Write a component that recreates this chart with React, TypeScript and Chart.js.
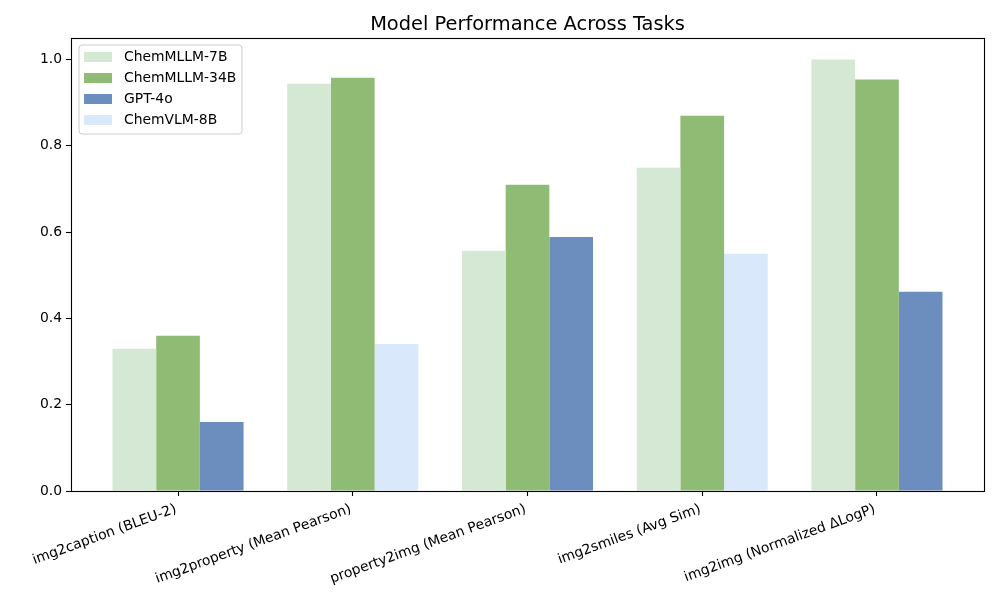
import React, { useEffect, useRef } from 'react';
import { Chart, registerables } from 'chart.js';

Chart.register(...registerables);

const categories = [
  'img2caption (BLEU-2)',
  'img2property (Mean Pearson)',
  'property2img (Mean Pearson)',
  'img2smiles (Avg Sim)',
  'img2img (Normalized ΔLogP)',
];
const models = ['ChemMLLM-7B', 'ChemMLLM-34B', 'GPT-4o', 'ChemVLM-8B'];
const chemmllm7b: (number | null)[] = [0.33, 0.944, 0.557, 0.749, 1.0];
const chemmllm34b: (number | null)[] = [0.36, 0.958, 0.71, 0.87, 0.954];
const gpt4o: (number | null)[] = [0.16, null, 0.589, null, 0.462];
const chemvlm8b: (number | null)[] = [null, 0.341, null, 0.55, null];
const modelColors = ['#d5e8d4', '#8fbb75', '#6c8ebf', '#dae8fc'];
const yTicks = [0, 0.2, 0.4, 0.6, 0.8, 1.0];
const titleText = 'Model Performance Across Tasks';

const FONT = "'DejaVu Sans', sans-serif";

export default function App() {
  const ref = useRef<HTMLCanvasElement | null>(null);

  useEffect(() => {
    if (!ref.current) return;
    const series = [chemmllm7b, chemmllm34b, gpt4o, chemvlm8b];
    const datasets = series.map((vals, k) => ({
      label: models[k],
      data: vals
        .map((v, i) => ({ x: i, y: v }))
        .filter((p) => p.y !== null) as { x: number; y: number }[],
      backgroundColor: modelColors[k],
      borderWidth: 0,
      skipNull: true,
      categoryPercentage: 0.75,
      barPercentage: 1.0,
    }));

    const framePlugin = {
      id: 'frameTitleLegend',
      afterDraw(chart: any) {
        const { ctx, chartArea } = chart;
        const { left, top, right, bottom } = chartArea;
        ctx.save();
        // frame
        ctx.strokeStyle = '#000';
        ctx.lineWidth = 1.1;
        ctx.strokeRect(Math.round(left) + 0.5, Math.round(top) + 0.5, Math.round(right - left), Math.round(bottom - top));
        // title
        ctx.fillStyle = '#000';
        ctx.font = `19.4px ${FONT}`;
        ctx.textAlign = 'center';
        ctx.textBaseline = 'alphabetic';
        ctx.fillText(titleText, (left + right) / 2, top - 8.5);
        // legend
        const lx = left + 8;
        const ly = top + 7;
        const lw = 163;
        const lh = 89;
        const r = 3;
        ctx.beginPath();
        ctx.moveTo(lx + r, ly);
        ctx.lineTo(lx + lw - r, ly);
        ctx.arcTo(lx + lw, ly, lx + lw, ly + r, r);
        ctx.lineTo(lx + lw, ly + lh - r);
        ctx.arcTo(lx + lw, ly + lh, lx + lw - r, ly + lh, r);
        ctx.lineTo(lx + r, ly + lh);
        ctx.arcTo(lx, ly + lh, lx, ly + lh - r, r);
        ctx.lineTo(lx, ly + r);
        ctx.arcTo(lx, ly, lx + r, ly, r);
        ctx.closePath();
        ctx.fillStyle = 'rgba(255,255,255,0.8)';
        ctx.fill();
        ctx.strokeStyle = '#cccccc';
        ctx.lineWidth = 1;
        ctx.stroke();
        ctx.font = `13.9px ${FONT}`;
        ctx.textAlign = 'left';
        ctx.textBaseline = 'middle';
        models.forEach((m, k) => {
          const cy = ly + 12 + k * 21;
          ctx.fillStyle = modelColors[k];
          ctx.fillRect(lx + 5, cy - 5, 28, 10);
          ctx.fillStyle = '#000';
          ctx.fillText(m, lx + 45, cy);
        });
        ctx.restore();
      },
    };

    const chart = new Chart(ref.current, {
      type: 'bar',
      data: { datasets: datasets as any },
      options: {
        animation: false,
        responsive: false,
        devicePixelRatio: 1,
        layout: { padding: { left: 0, top: 38, right: 16, bottom: 0 } },
        plugins: {
          legend: { display: false },
          title: { display: false },
          tooltip: { enabled: false },
        },
        scales: {
          x: {
            type: 'linear',
            min: -0.6125,
            max: 4.6125,
            offset: false,
            afterBuildTicks: (s: any) => {
              s.ticks = categories.map((_, i) => ({ value: i }));
            },
            afterFit: (s: any) => {
              s.height = 109;
            },
            border: { display: false },
            grid: {
              display: true,
              drawOnChartArea: false,
              drawTicks: true,
              tickLength: 5,
              tickColor: '#000',
              tickWidth: 1.1,
              offset: false,
            },
            ticks: {
              autoSkip: false,
              minRotation: 20,
              maxRotation: 20,
              padding: 5,
              labelOffset: -2,
              color: '#000',
              font: { family: FONT, size: 13.9 },
              callback: (v: any) => categories[Number(v)] ?? '',
            },
          },
          y: {
            type: 'linear',
            min: 0,
            max: 1.05,
            afterBuildTicks: (s: any) => {
              s.ticks = yTicks.map((v) => ({ value: v }));
            },
            afterFit: (s: any) => {
              s.width = 71;
            },
            border: { display: false },
            grid: {
              display: true,
              drawOnChartArea: false,
              drawTicks: true,
              tickLength: 5,
              tickColor: '#000',
              tickWidth: 1.1,
            },
            ticks: {
              padding: 4,
              color: '#000',
              font: { family: FONT, size: 13.9 },
              callback: (v: any) => Number(v).toFixed(1),
            },
          },
        },
      },
      plugins: [framePlugin],
    });
    return () => chart.destroy();
  }, []);

  return (
    <div style={{ position: 'fixed', left: 0, top: 0, width: 1000, height: 600, background: '#fff' }}>
      <canvas ref={ref} width={1000} height={600} style={{ width: 1000, height: 600 }} />
    </div>
  );
}
